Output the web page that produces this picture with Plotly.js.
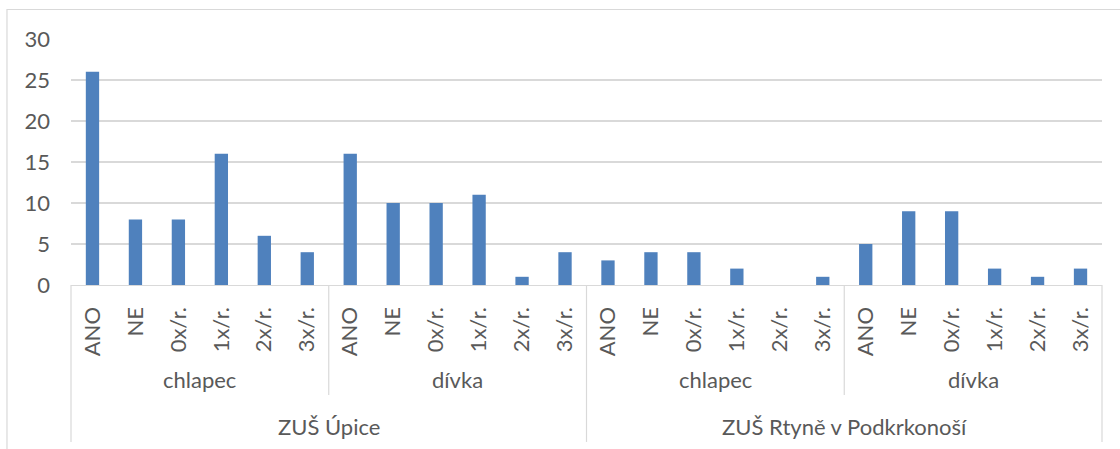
<!DOCTYPE html>
<html>
<head>
<meta charset="utf-8">
<script src="https://cdn.plot.ly/plotly-3.0.1.min.js"></script>
<style>html,body{margin:0;padding:0;background:#fff;}#chart{width:1120px;height:449px;}</style>
</head>
<body>
<div id="chart"></div>
<script>
// Data
const schools = ["ZUŠ Úpice", "ZUŠ Rtyně v Podkrkonoší"];
const genders = ["chlapec", "dívka"];
const answers = ["ANO", "NE", "0x/r.", "1x/r.", "2x/r.", "3x/r."];
const valuesUpiceChlapec = [26, 8, 8, 16, 6, 4];
const valuesUpiceDivka = [16, 10, 10, 11, 1, 4];
const valuesRtyneChlapec = [3, 4, 4, 2, 0, 1];
const valuesRtyneDivka = [5, 9, 9, 2, 1, 2];

const allValues = [].concat(valuesUpiceChlapec, valuesUpiceDivka, valuesRtyneChlapec, valuesRtyneDivka);
const xIdx = allValues.map((v, i) => i);
const tickText = [];
schools.forEach(() => genders.forEach(() => answers.forEach(a => tickText.push(a))));

const textColor = '#595959';
const lineColor = '#D9D9D9';
const fontFam = 'Lato, Calibri, "Open Sans", sans-serif';
const fontSize = 22;
const n = answers.length;

const shapes = [];
const annotations = [];

// outer chart border
shapes.push({type: 'rect', xref: 'paper', yref: 'paper', x0: -0.0621, x1: 1.05, y0: -1, y1: 1.12,
  line: {color: lineColor, width: 1.2}, fillcolor: 'rgba(0,0,0,0)', layer: 'below'});

// group dividers
const nGroups = schools.length * genders.length;
for (let g = 0; g <= nGroups; g++) {
  const isSchoolEdge = (g % genders.length === 0);
  const y0 = isSchoolEdge ? -0.638 : -0.447;
  if (g === 0 || g === nGroups) {
    const xp = g === 0 ? 0 : 1;
    shapes.push({type: 'line', xref: 'paper', yref: 'paper', x0: xp, x1: xp, y0: y0, y1: 0,
      line: {color: lineColor, width: 1.2}});
  } else {
    shapes.push({type: 'line', xref: 'x', yref: 'paper', x0: g * n - 0.5, x1: g * n - 0.5, y0: y0, y1: 0,
      line: {color: lineColor, width: 1.2}});
  }
}

// gender and school labels
schools.forEach((s, si) => {
  genders.forEach((gname, gi) => {
    const g = si * genders.length + gi;
    annotations.push({xref: 'x', yref: 'paper', x: g * n + (n - 1) / 2, y: -0.386, text: gname,
      showarrow: false, xanchor: 'center', yanchor: 'middle', font: {family: fontFam, size: fontSize, color: textColor}});
  });
  const span = genders.length * n;
  annotations.push({xref: 'x', yref: 'paper', x: si * span + (span - 1) / 2, y: -0.577, text: s,
    showarrow: false, xanchor: 'center', yanchor: 'middle', font: {family: fontFam, size: fontSize, color: textColor}});
});

const trace = {
  type: 'bar',
  x: xIdx,
  y: allValues,
  marker: {color: '#4F81BD', line: {width: 0}},
  hoverinfo: 'y'
};

const layout = {
  width: 1120, height: 449,
  margin: {l: 71, r: 18, t: 39, b: 164},
  paper_bgcolor: '#fff', plot_bgcolor: '#fff',
  showlegend: false,
  bargap: 0.69,
  font: {family: fontFam, color: textColor, size: fontSize},
  xaxis: {
    range: [-0.5, allValues.length - 0.5],
    tickmode: 'array', tickvals: xIdx, ticktext: tickText,
    tickangle: -90, ticks: '', showgrid: false, zeroline: false,
    showline: true, linecolor: lineColor, linewidth: 1.2,
    ticklabelstandoff: 12,
    tickfont: {family: fontFam, size: fontSize, color: textColor},
    fixedrange: true
  },
  yaxis: {
    range: [0, 30], tickmode: 'array', tickvals: [0, 5, 10, 15, 20, 25, 30],
    showgrid: true, gridcolor: lineColor, gridwidth: 1.2, zeroline: false, showline: false, ticks: '',
    ticklabelstandoff: 20,
    tickfont: {family: fontFam, size: fontSize, color: textColor},
    fixedrange: true
  },
  shapes: shapes,
  annotations: annotations
};

Plotly.newPlot('chart', [trace], layout, {displayModeBar: false, staticPlot: true});
</script>
</body>
</html>
